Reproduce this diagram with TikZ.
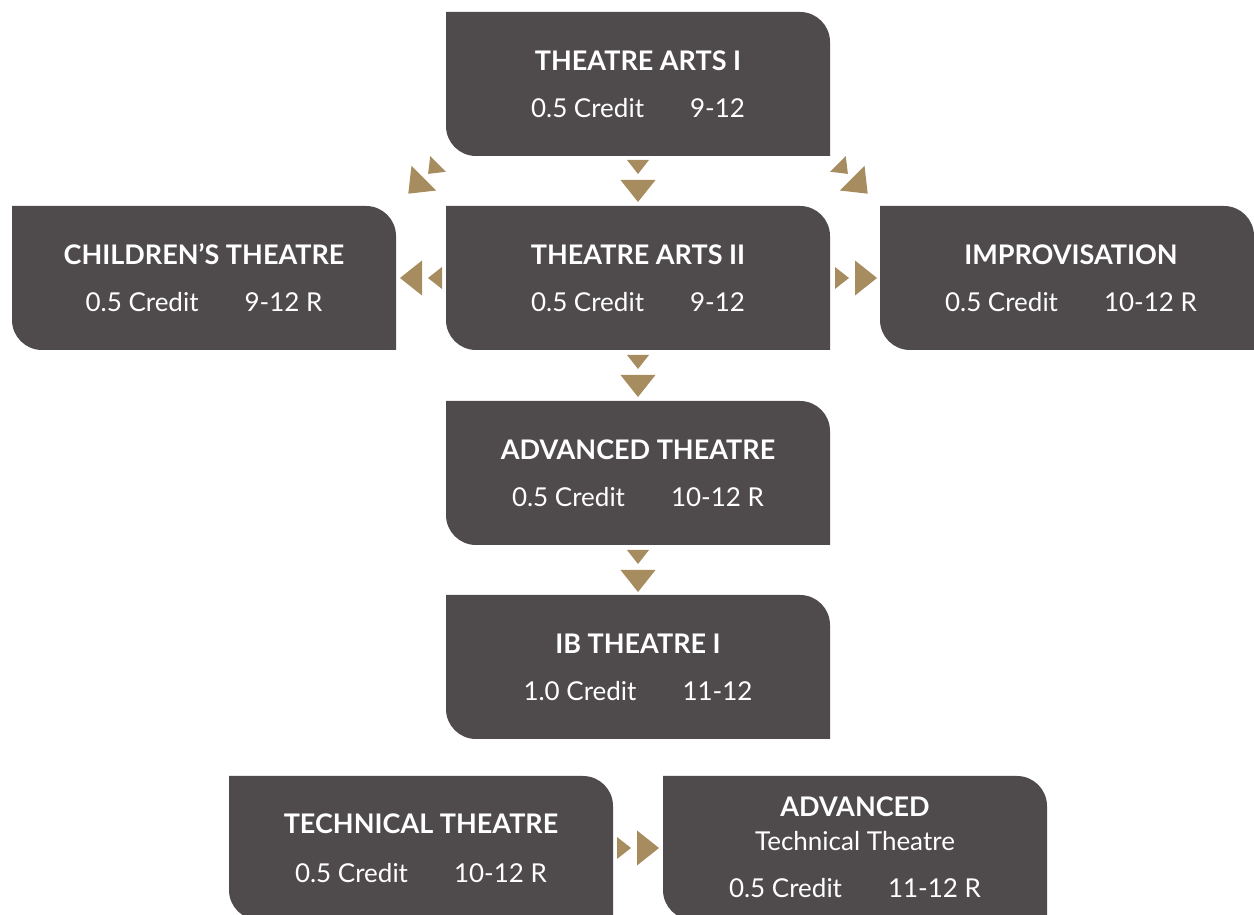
\documentclass[tikz,border=0pt]{standalone}
\usepackage{fontspec}
\setmainfont{Lato}
\definecolor{boxcol}{RGB}{79,74,75}
\definecolor{gold}{RGB}{166,140,94}
\tikzset{
  box/.style={minimum width=384pt, minimum height=144pt, inner sep=0pt, outer sep=0pt},
  ttl/.style={text=white, font=\fontsize{27}{30}\selectfont\bfseries, inner sep=0pt, anchor=base},
  crd/.style={text=white, font=\fontsize{26}{30}\selectfont, inner sep=0pt, anchor=base},
  dbl/.pic={\fill[gold] (0,11) -- (14,0) -- (0,-11) -- cycle;
            \fill[gold] (20,17.5) -- (42,0) -- (20,-17.5) -- cycle;}
}
\newcommand\boxshape[1]{\fill[boxcol] (#1.north west) -- ([xshift=-30pt]#1.north east)
  arc[start angle=90,end angle=0,radius=30pt] -- (#1.south east) -- ([xshift=30pt]#1.south west)
  arc[start angle=270,end angle=180,radius=30pt] -- cycle;}
\begin{document}
\begin{tikzpicture}[x=1pt,y=1pt]
\useasboundingbox (0,0) rectangle (1254,915);
\clip (0,0) rectangle (1254,915);
% boxes (screen y flipped: Y = 915 - y)
\node[box] (ta1) at (638,831) {};
\node[box] (ta2) at (638,637) {};
\node[box] (child) at (204,637) {};
\node[box, minimum width=374pt] (impr) at (1067,637) {};
\node[box] (adv) at (638,442) {};
\node[box] (ib) at (638,248) {};
\node[box] (tech) at (421,67) {};
\node[box] (advt) at (855,67) {};
\foreach \n in {ta1,ta2,child,impr,adv,ib,tech,advt} {\boxshape{\n}}
% texts
\node[ttl] at ([yshift=-59pt]ta1.north) {THEATRE ARTS I};
\node[crd] at ([yshift=-106pt]ta1.north) {0.5 Credit\hspace{46pt}9-12};
\node[ttl] at ([yshift=-59pt]ta2.north) {THEATRE ARTS II};
\node[crd] at ([yshift=-106pt]ta2.north) {0.5 Credit\hspace{46pt}9-12};
\node[ttl] at ([yshift=-59pt]child.north) {CHILDREN’S THEATRE};
\node[crd] at ([yshift=-106pt]child.north) {0.5 Credit\hspace{46pt}9-12 R};
\node[ttl] at ([shift={(4pt,-59pt)}]impr.north) {IMPROVISATION};
\node[crd] at ([shift={(4pt,-106pt)}]impr.north) {0.5 Credit\hspace{46pt}10-12 R};
\node[ttl] at ([yshift=-59pt]adv.north) {ADVANCED THEATRE};
\node[crd] at ([yshift=-106pt]adv.north) {0.5 Credit\hspace{46pt}10-12 R};
\node[ttl] at ([yshift=-59pt]ib.north) {IB THEATRE I};
\node[crd] at ([yshift=-106pt]ib.north) {1.0 Credit\hspace{46pt}11-12};
\node[ttl] at ([yshift=-58pt]tech.north) {TECHNICAL THEATRE};
\node[crd] at ([yshift=-107pt]tech.north) {0.5 Credit\hspace{46pt}10-12 R};
\node[ttl] at ([yshift=-41pt]advt.north) {ADVANCED};
\node[crd] at ([yshift=-75pt]advt.north) {Technical Theatre};
\node[crd] at ([yshift=-122pt]advt.north) {0.5 Credit\hspace{46pt}11-12 R};
% arrows
\pic[rotate=-90] at ([yshift=-4pt]ta1.south) {dbl};
\pic[rotate=-90] at ([yshift=-5pt]ta2.south) {dbl};
\pic[rotate=-90] at ([yshift=-5pt]adv.south) {dbl};
\pic[rotate=180] at ([xshift=-4pt]ta2.west) {dbl};
\pic at ([xshift=5pt]ta2.east) {dbl};
\pic at ([xshift=4pt]tech.east) {dbl};
\pic[rotate=225] at ([shift={(-8pt,-8pt)}]ta1.south west) {dbl};
\pic[rotate=-45] at ([shift={(8pt,-8pt)}]ta1.south east) {dbl};
\end{tikzpicture}
\end{document}
